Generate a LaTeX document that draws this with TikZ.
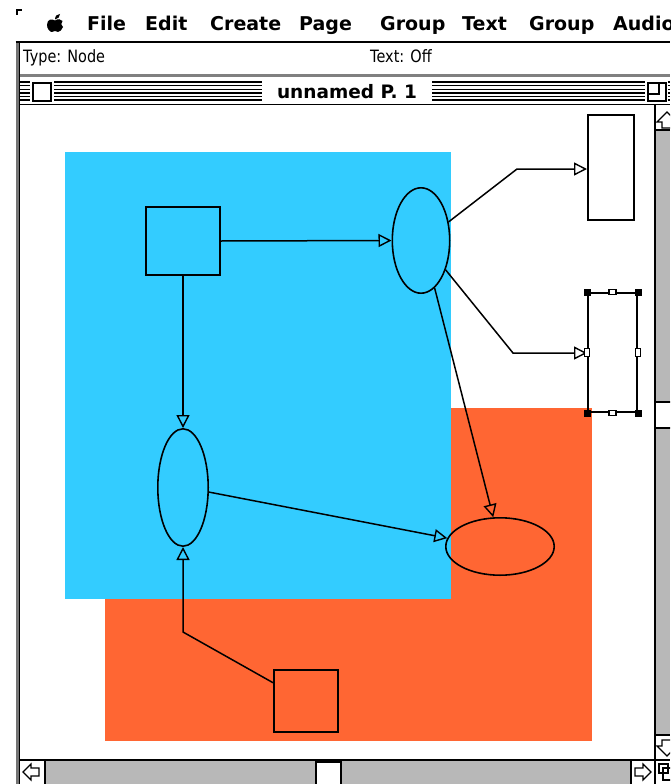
\documentclass[tikz,border=0pt]{standalone}
\usepackage{fontspec}
\setmainfont{DejaVu Sans}
\newfontfamily\infofont[FakeStretch=0.85]{DejaVu Sans}
\usetikzlibrary{shapes.geometric,arrows.meta}
\definecolor{skyblue}{HTML}{33CCFF}
\definecolor{tomato}{HTML}{FF6633}
\tikzset{
  menu_t/.style = {anchor=base west, inner sep=0pt, font=\fontsize{19}{19}\selectfont\bfseries},
  info_t/.style = {anchor=base west, inner sep=0pt, font=\infofont\fontsize{17}{17}\selectfont},
  shape_u/.style = {draw=black, line width=1.6pt, inner sep=0pt},
  box_u/.style = {shape_u, rectangle},
  oval_u/.style = {shape_u, ellipse},
  link/.style = {line width=1.5pt, -{Triangle[open, length=13pt, width=13pt, line width=1.4pt]}},
  handle_k/.style = {fill=black, inner sep=0pt, minimum size=7pt},
  handle_h/.style = {draw=black, fill=white, line width=1.2pt, inner sep=0pt, minimum width=7pt, minimum height=5pt},
  handle_v/.style = {handle_h, minimum width=5pt, minimum height=8pt},
  dotbar/.style = {fill=black!28},
  sbox/.style = {draw=black, line width=1.4pt, fill=white},
  frame_l/.style = {line width=1.4pt},
}

\begin{document}
\begin{tikzpicture}[x=1pt, y=-1pt]
  \useasboundingbox (0,0) rectangle (670,784);
  \clip (0,0) rectangle (670,784);
  % menu bar
  \draw[line width=2pt] (17,15) -- (17,10) -- (22,10);
  \fill (55,20.5) .. controls (52,18.5) and (47,19) .. (47,25)
    .. controls (47,29) and (50,32) .. (52,32)
    .. controls (53.5,32) and (54,31) .. (55,31)
    .. controls (56,31) and (56.5,32) .. (58,32)
    .. controls (60,32) and (62,29.5) .. (63,27)
    .. controls (61,26) and (60.5,22.5) .. (62.5,21)
    .. controls (61,19) and (58,18.5) .. (55,20.5) -- cycle;
  \fill (55,19.5) .. controls (55,16) and (57,14) .. (60,14)
    .. controls (60,17) and (58,19) .. (55,19.5) -- cycle;
  \node[menu_t] (mfile) at (87,31) {File};
  \node[menu_t] (medit) at (145,31) {Edit};
  \node[menu_t] (mcreate) at (210,31) {Create};
  \node[menu_t] (mpage) at (299,31) {Page};
  \node[menu_t] (mgroup) at (380,31) {Group};
  \node[menu_t] (mtext) at (462,31) {Text};
  \node[menu_t] (mgroupb) at (529,31) {Group};
  \node[menu_t] (maudio) at (613,31) {Audio};
  % window frame and info line
  \fill[black!55] (15.5,41) rectangle (18.5,784);
  \draw[line width=2.5pt] (15.5,42) -- (670,42);
  \draw[line width=1pt] (19.5,42) -- (19.5,784);
  \fill[black!50] (19.5,73.5) rectangle (670,76.5);
  \node[info_t] (ntype) at (23,63) {Type: Node};
  \node[info_t] (ntext) at (370,63) {Text: Off};
  % title bar
  \foreach \i in {0,...,5}
    \draw[frame_l] (20,82+3.6*\i) -- (670,82+3.6*\i);
  \fill[white] (30,79) rectangle (54,103);
  \draw[frame_l] (33,83) rectangle (51,101);
  \fill[white] (262,78) rectangle (432,103);
  \node[anchor=base, inner sep=0pt, font=\fontsize{18.5}{18.5}\selectfont\bfseries] (title) at (347,98) {unnamed P. 1};
  \fill[white] (645,79) rectangle (668,103);
  \draw[frame_l] (648,83) rectangle (666,101);
  \draw[frame_l] (648,83) rectangle (659,94);
  \draw[frame_l] (19.5,104.5) -- (670,104.5);
  % canvas
  \fill[tomato] (105,408) rectangle (592,741);
  \fill[skyblue] (65,152) rectangle (451,599);
  \node[box_u, minimum width=74.4pt, minimum height=68.4pt] (sq1) at (183,241) {};
  \node[oval_u, minimum width=57.4pt, minimum height=105.4pt] (oval1) at (421,240.5) {};
  \node[box_u, minimum width=46.4pt, minimum height=105.4pt] (box1) at (611,167.5) {};
  \node[box_u, minimum width=49.4pt, minimum height=119.4pt] (box2) at (612.5,352.5) {};
  \node[oval_u, minimum width=50.4pt, minimum height=117.4pt] (oval2) at (183,487.5) {};
  \node[oval_u, minimum width=108.4pt, minimum height=57.4pt] (oval3) at (500,546.5) {};
  \node[box_u, minimum width=64.4pt, minimum height=62.4pt] (sq2) at (306,701) {};
  \coordinate (b1) at (517,169);
  \coordinate (b2) at (513,353);
  \coordinate (b3) at (183,632);
  \draw[link] (sq1.east) -- (oval1.west);
  \draw[link] (oval1.34) -- (b1) -- (b1 -| box1.west);
  \draw[link] (oval1.-50) -- (b2) -- (b2 -| box2.west);
  \draw[link] (oval1.-74) -- (oval3.103);
  \draw[link] (sq1.south) -- (oval2.north);
  \draw[link] (oval2.-10) -- (oval3.171);
  \draw[link] (sq2.151) -- (b3) -- (oval2.south);
  % selection handles
  \foreach \a in {north west, north east, south west, south east}
    \node[handle_k] at (box2.\a) {};
  \foreach \a in {north, south}
    \node[handle_h] at (box2.\a) {};
  \foreach \a in {west, east}
    \node[handle_v] at (box2.\a) {};
  % scroll bars
  \fill[dotbar] (655.6,130) rectangle (670,735);
  \draw[line width=1.2pt] (655,104.5) -- (655,784);
  \draw[line width=1.2pt] (655,130) -- (670,130);
  \draw[sbox] (655,402) rectangle (672,428);
  \draw[line width=1.2pt] (655,735) -- (670,735);
  \fill[dotbar] (45,760.6) rectangle (631,784);
  \draw[line width=1.2pt] (19.5,760) -- (670,760);
  \draw[line width=1.2pt] (45,760) -- (45,784);
  \draw[line width=1.2pt] (631,760) -- (631,784);
  \draw[sbox] (316,762) rectangle (341,786);
  \draw[line width=1.2pt] (667,112) -- (677,122) -- (672,122) -- (672,128) -- (662,128) -- (662,122) -- (657,122) -- cycle;
  \draw[line width=1.2pt] (667,756) -- (677,746) -- (672,746) -- (672,740) -- (662,740) -- (662,746) -- (657,746) -- cycle;
  \draw[line width=1.2pt] (23,772) -- (31,764) -- (31,768) -- (39,768) -- (39,776) -- (31,776) -- (31,780) -- cycle;
  \draw[line width=1.2pt] (651,772) -- (643,764) -- (643,768) -- (635,768) -- (635,776) -- (643,776) -- (643,780) -- cycle;
  \draw[line width=1.2pt] (659,764) rectangle (668,773);
  \draw[line width=1.2pt] (663,768) rectangle (672,780);
\end{tikzpicture}
\end{document}
